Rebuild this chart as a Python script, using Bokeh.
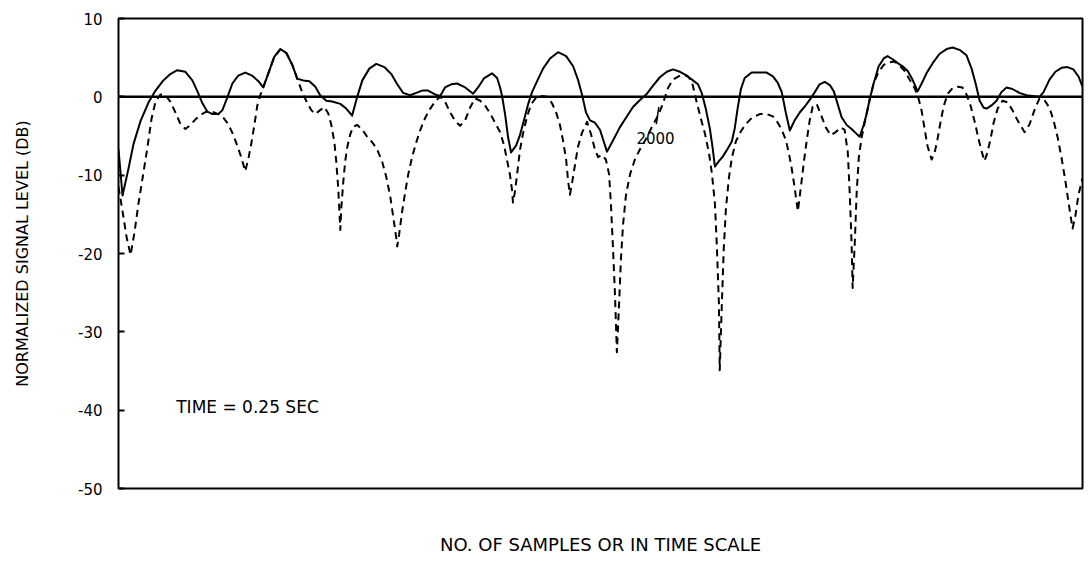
from bokeh.plotting import figure
from bokeh.models import Range1d, FixedTicker, Label, Span
from bokeh.embed import file_html
from bokeh.resources import INLINE

# ---- data (x in samples, y in dB) ----
SOLID_X = [0, 15, 37, 56, 82, 112, 138, 167, 193, 219, 249, 275, 294, 312, 331, 350, 372, 387, 405, 424,
           446, 472, 498, 521, 539, 558, 580, 603, 625, 647, 666, 688, 711, 733, 751, 774, 796, 826, 848, 870,
           889, 908, 934, 960, 990, 1016, 1038, 1060, 1086, 1109, 1131, 1153, 1179, 1198, 1216, 1239, 1261, 1291, 1321, 1339,
           1362, 1391, 1410, 1421, 1428, 1440, 1451, 1462, 1481, 1495, 1510, 1525, 1540, 1559, 1581, 1607, 1637, 1667, 1693, 1711,
           1726, 1741, 1756, 1774, 1793, 1808, 1819, 1838, 1867, 1893, 1916, 1942, 1968, 1990, 2016, 2042, 2065, 2091, 2117, 2139,
           2158, 2172, 2187, 2202, 2213, 2221, 2236, 2251, 2269, 2284, 2295, 2306, 2318, 2332, 2358, 2388, 2414, 2437, 2455, 2470,
           2485, 2500, 2518, 2537, 2559, 2574, 2593, 2611, 2630, 2649, 2664, 2678, 2693, 2712, 2730, 2745, 2760, 2775, 2786, 2797,
           2812, 2831, 2850, 2864, 2883, 2902, 2920, 2939, 2957, 2976, 2991, 3009, 3032, 3058, 3084, 3106, 3132, 3158, 3177, 3192,
           3207, 3222, 3233, 3251, 3270, 3288, 3307, 3329, 3355, 3381, 3404, 3430, 3445, 3467, 3489, 3512, 3534, 3556, 3575, 3590]
SOLID_Y = [-6.7, -12.6, -9.2, -6.0, -3.1, -0.7, 0.8, 2.1, 2.9, 3.4, 3.2, 2.1, 0.7, -0.8, -1.9, -2.2, -2.2, -1.7, -0.1, 1.7,
           2.7, 3.1, 2.7, 2.0, 1.2, 3.0, 5.1, 6.1, 5.6, 4.1, 2.3, 2.1, 2.0, 1.3, 0.2, -0.5, -0.6, -0.9, -1.5, -2.4,
           0.0, 2.1, 3.6, 4.2, 3.8, 2.9, 1.6, 0.5, 0.2, 0.5, 0.8, 0.8, 0.3, 0.1, 1.2, 1.6, 1.7, 1.2, 0.4, 1.2,
           2.4, 3.0, 2.4, 1.2, 0.2, -2.3, -5.2, -7.1, -6.2, -4.9, -3.0, -1.0, 0.6, 2.0, 3.6, 4.9, 5.7, 5.2, 3.9, 2.2,
           0.3, -2.0, -3.0, -3.3, -4.2, -5.8, -7.0, -5.8, -3.9, -2.5, -1.3, -0.4, 0.4, 1.4, 2.5, 3.2, 3.5, 3.2, 2.7, 2.1,
           1.6, 0.5, -1.5, -4.0, -6.6, -8.9, -8.2, -7.6, -6.6, -5.7, -4.0, -1.4, 1.0, 2.4, 3.1, 3.1, 3.1, 2.6, 1.8, 0.6,
           -2.0, -4.3, -3.0, -2.0, -1.1, -0.4, 0.6, 1.6, 1.9, 1.5, 0.7, -0.9, -2.6, -3.6, -4.1, -4.6, -5.1, -3.6, -2.2, -0.4,
           1.7, 3.9, 4.9, 5.2, 4.8, 4.3, 3.9, 3.3, 2.2, 0.7, 1.7, 3.0, 4.3, 5.5, 6.1, 6.3, 6.0, 5.3, 3.6, 1.7,
           -0.5, -1.4, -1.5, -1.1, -0.5, 0.6, 1.2, 1.0, 0.5, 0.2, 0.1, 0.0, 0.6, 2.2, 3.2, 3.7, 3.8, 3.5, 2.6, 1.3]

DASH_X = [0, 15, 30, 45, 60, 74, 89, 108, 123, 138, 156, 175, 193, 212, 231, 249, 268, 286, 305, 327,
          350, 372, 391, 409, 428, 443, 458, 472, 484, 495, 506, 517, 528, 539, 558, 580, 603, 625, 647, 666,
          684, 699, 718, 733, 751, 766, 781, 792, 804, 811, 818, 822, 826, 830, 837, 844, 852, 863, 874, 889,
          908, 926, 945, 963, 982, 997, 1012, 1023, 1034, 1038, 1045, 1056, 1068, 1079, 1094, 1109, 1123, 1142, 1161, 1179,
          1198, 1216, 1235, 1254, 1272, 1291, 1309, 1328, 1347, 1365, 1384, 1402, 1421, 1436, 1447, 1458, 1466, 1469, 1477, 1484,
          1495, 1507, 1521, 1536, 1555, 1577, 1596, 1614, 1629, 1644, 1655, 1667, 1674, 1681, 1689, 1700, 1711, 1726, 1745, 1760,
          1774, 1786, 1800, 1815, 1827, 1834, 1841, 1849, 1856, 1864, 1871, 1879, 1890, 1905, 1923, 1942, 1964, 1987, 2009, 2027,
          2046, 2065, 2091, 2117, 2135, 2154, 2169, 2184, 2199, 2210, 2221, 2228, 2236, 2239, 2247, 2254, 2262, 2273, 2284, 2299,
          2318, 2336, 2358, 2388, 2414, 2437, 2455, 2470, 2485, 2496, 2507, 2518, 2530, 2541, 2552, 2563, 2574, 2585, 2600, 2615,
          2634, 2652, 2671, 2690, 2704, 2716, 2723, 2730, 2734, 2742, 2749, 2757, 2768, 2783, 2797, 2812, 2831, 2850, 2872, 2890,
          2909, 2928, 2946, 2965, 2980, 2991, 3002, 3013, 3028, 3039, 3050, 3062, 3073, 3088, 3106, 3125, 3143, 3158, 3173, 3188,
          3203, 3214, 3225, 3236, 3248, 3259, 3274, 3292, 3311, 3329, 3348, 3374, 3393, 3411, 3430, 3448, 3467, 3482, 3497, 3512,
          3527, 3538, 3553, 3564, 3575, 3590]
DASH_Y = [-11.5, -14.6, -17.9, -20.2, -17.2, -13.7, -10.5, -6.4, -2.8, -0.6, 0.3, 0.2, -0.6, -2.0, -3.5, -4.1, -3.6, -2.9, -2.3, -1.9,
          -1.9, -2.2, -2.7, -3.5, -4.9, -6.3, -7.8, -9.5, -7.8, -5.9, -3.6, -1.1, 0.2, 1.2, 3.0, 5.1, 6.1, 5.6, 4.1, 2.3,
          0.6, -0.5, -1.7, -2.2, -1.7, -1.3, -2.1, -3.5, -5.8, -8.3, -11.5, -14.1, -17.0, -14.1, -10.9, -8.3, -6.4, -4.8, -3.8, -3.6,
          -4.2, -5.1, -5.8, -6.7, -8.3, -10.2, -12.7, -15.3, -17.9, -19.1, -17.6, -14.7, -12.1, -9.9, -7.6, -5.8, -4.3, -2.7, -1.5, -0.6,
          0.0, -0.6, -2.0, -3.1, -3.7, -3.0, -1.4, -0.2, -0.5, -1.1, -2.1, -3.3, -4.5, -6.2, -8.1, -10.0, -12.0, -13.5, -12.0, -10.0,
          -6.8, -4.6, -2.6, -1.0, -0.1, 0.1, 0.0, -0.8, -1.9, -3.6, -5.5, -8.0, -10.6, -12.5, -11.0, -8.7, -6.4, -4.6, -3.2, -4.8,
          -6.7, -7.7, -7.4, -8.0, -9.9, -13.8, -18.9, -25.3, -32.6, -26.6, -20.8, -16.3, -12.5, -9.9, -8.0, -6.7, -5.4, -3.8, -2.4, -0.9,
          1.1, 2.2, 2.7, 2.7, 2.0, -0.8, -2.8, -4.7, -7.2, -9.8, -13.6, -18.8, -26.4, -34.9, -26.4, -19.4, -14.3, -10.4, -7.8, -5.7,
          -4.4, -3.5, -2.7, -2.2, -2.2, -2.5, -3.3, -4.2, -5.5, -7.1, -9.1, -11.6, -14.6, -11.6, -8.4, -5.6, -3.0, -1.3, -0.9, -2.2,
          -3.9, -4.9, -4.5, -3.9, -4.2, -7.1, -12.2, -18.6, -24.4, -18.6, -12.2, -7.7, -5.1, -2.6, -0.4, 1.7, 3.2, 4.1, 4.4, 4.5,
          4.0, 3.3, 2.2, 1.1, -0.3, -1.8, -4.1, -6.3, -8.0, -7.2, -5.4, -3.1, -1.2, 0.4, 1.1, 1.3, 1.2, 0.3, -1.1, -3.1,
          -5.4, -6.9, -8.2, -7.1, -5.3, -3.3, -1.5, -0.5, -0.7, -1.7, -3.0, -4.5, -3.5, -1.7, -0.2, -0.4, -1.4, -3.0, -5.1, -7.8,
          -10.9, -13.5, -16.8, -15.1, -12.5, -10.4]

Y_TICKS = [10, 0, -10, -20, -30, -40, -50]
Y_TICK_LABELS = {t: str(t) for t in Y_TICKS}   # plain hyphen minus, as in the original
X_MAX = 3590
Y_TITLE = "NORMALIZED SIGNAL LEVEL (DB)"
X_TITLE = "NO. OF SAMPLES OR IN TIME SCALE"
NOTE_TEXT = "TIME = 0.25  SEC"
NOTE_X, NOTE_Y = 215, -39.6
MARK_TEXT = "2000"
MARK_X, MARK_Y = 2000, -5.3
LEADER = dict(x0=[2003], y0=[-3.5], x1=[2012], y1=[-1.3])

FONT = "DejaVu Sans"

p = figure(width=1084, height=557, output_backend="svg", toolbar_location=None,
           x_range=Range1d(0, X_MAX), y_range=Range1d(-50, 10),
           min_border_left=118, min_border_right=2, min_border_top=18, min_border_bottom=69)
p.grid.grid_line_color = None
p.outline_line_color = "black"
p.outline_line_width = 2
p.background_fill_color = "white"
p.border_fill_color = "white"

# y axis
p.yaxis.ticker = FixedTicker(ticks=Y_TICKS)
p.yaxis.major_label_overrides = Y_TICK_LABELS
p.yaxis.major_tick_in = 6
p.yaxis.major_tick_out = 0
p.yaxis.major_tick_line_width = 2
p.yaxis.minor_tick_line_color = None
p.yaxis.axis_line_color = None
p.yaxis.major_label_standoff = 16
p.yaxis.major_label_text_font = FONT
p.yaxis.major_label_text_font_size = "15px"
p.yaxis.major_label_text_color = "black"
p.yaxis.axis_label = Y_TITLE
p.yaxis.axis_label_text_font = FONT
p.yaxis.axis_label_text_font_size = "16px"
p.yaxis.axis_label_text_font_style = "normal"
p.yaxis.axis_label_text_color = "black"
p.yaxis.axis_label_standoff = 43

# x axis: only its title, no ticks
p.xaxis.ticker = FixedTicker(ticks=[])
p.xaxis.major_tick_line_color = None
p.xaxis.minor_tick_line_color = None
p.xaxis.axis_line_color = None
p.xaxis.major_label_standoff = 0
p.xaxis.axis_label = X_TITLE
p.xaxis.axis_label_text_font = FONT
p.xaxis.axis_label_text_font_size = "18px"
p.xaxis.axis_label_text_font_style = "normal"
p.xaxis.axis_label_text_color = "black"
p.xaxis.axis_label_standoff = 45

# zero reference line
p.add_layout(Span(location=0, dimension="width", line_color="black", line_width=2.5))

# curves
p.line(DASH_X, DASH_Y, line_color="black", line_width=2, line_dash="7 5", line_join="round")
p.line(SOLID_X, SOLID_Y, line_color="black", line_width=2, line_join="round")

# annotations
p.segment(line_color="black", line_width=1.5, **LEADER)
p.add_layout(Label(x=MARK_X, y=MARK_Y, text=MARK_TEXT, text_align="center", text_baseline="middle",
                   text_font=FONT, text_font_size="15px", text_color="black"))
p.add_layout(Label(x=NOTE_X, y=NOTE_Y, text=NOTE_TEXT, text_align="left", text_baseline="middle",
                   text_font=FONT, text_font_size="17px", text_color="black"))

open("out.html", "w").write(file_html(p, INLINE))
